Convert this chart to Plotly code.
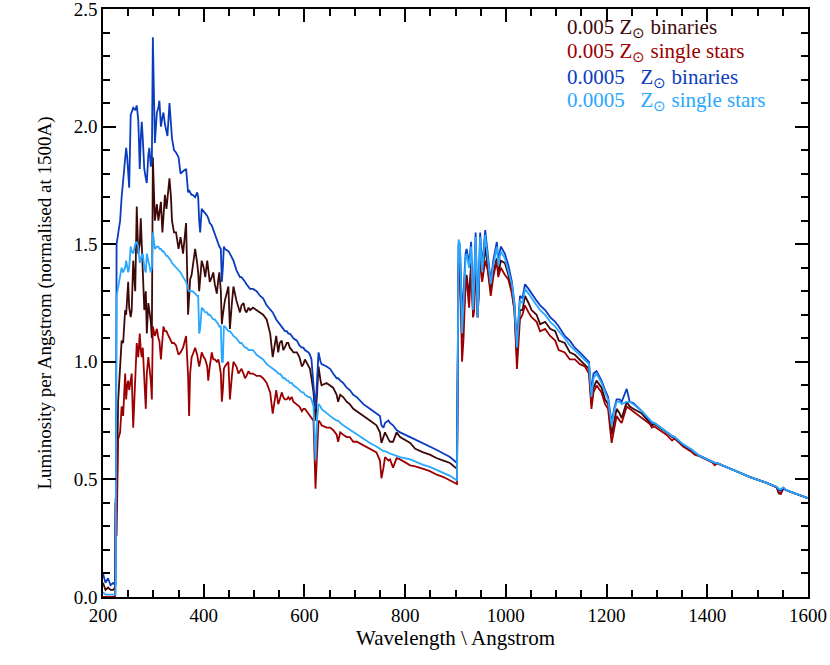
import plotly.graph_objects as go

# wavelength grid (Angstrom), shared by all four spectra
wave = [
    200, 205, 210, 215, 220, 224, 225, 227, 230, 234,
    237, 240, 244, 246, 248, 250, 252, 255, 257, 260,
    264, 267, 270, 273, 275, 277, 279, 282, 285, 287,
    290, 292, 295, 297, 299, 303, 307, 310, 312, 315,
    318, 320, 323, 326, 328, 332, 335, 337, 341, 345,
    350, 354, 359, 365, 369, 371, 373, 376, 378, 383,
    387, 389, 391, 393, 396, 400, 403, 407, 409, 412,
    416, 419, 422, 426, 429, 431, 434, 436, 438, 440,
    442, 449, 452, 456, 459, 465, 469, 472, 475, 479,
    482, 485, 489, 492, 498, 505, 512, 518, 525, 532,
    537, 544, 548, 551, 555, 558, 561, 565, 568, 571,
    575, 578, 585, 590, 595, 598, 601, 608, 611, 614,
    618, 622, 625, 628, 632, 634, 644, 651, 657, 664,
    667, 671, 677, 684, 690, 697, 704, 717, 730, 743,
    750, 753, 757, 760, 767, 770, 776, 783, 790, 810,
    820, 829, 836, 849, 863, 876, 889, 903, 906, 909,
    913, 916, 920, 922, 927, 931, 935, 937, 940, 944,
    946, 949, 953, 959, 964, 970, 975, 982, 985, 990,
    998, 1005, 1012, 1017, 1022, 1025, 1028, 1033, 1038, 1045,
    1051, 1061, 1068, 1078, 1088, 1098, 1105, 1117, 1127, 1137,
    1147, 1157, 1165, 1170, 1174, 1180, 1190, 1197, 1203, 1210,
    1215, 1220, 1226, 1230, 1240, 1246, 1253, 1270, 1286, 1290,
    1295, 1319, 1330, 1335, 1352, 1370, 1375, 1385, 1410, 1415,
    1419, 1452, 1485, 1518, 1538, 1542, 1546, 1551, 1556, 1571,
    1600,
]

# 0.005 Zsun binaries
lum_z005_bin = [
    .06, .03, .04, .03, .03, .04, .40, .36, .83, 1.00,
    1.09, 1.08, 1.22, 1.20, 1.30, 1.34, 1.23, 1.19, 1.22, 1.43,
    1.30, 1.66, 1.46, 1.50, 1.61, 1.50, 1.43, 1.22, 1.30, 1.12,
    1.25, 1.21, 1.17, 1.10, 1.87, 1.60, 1.67, 1.60, 1.64, 1.68,
    1.55, 1.62, 1.71, 1.65, 1.70, 1.78, 1.70, 1.60, 1.55, 1.55,
    1.48, 1.53, 1.46, 1.59, 1.20, 1.28, 1.35, 1.37, 1.40, 1.48,
    1.42, 1.38, 1.30, 1.35, 1.43, 1.40, 1.36, 1.43, 1.38, 1.34,
    1.36, 1.38, 1.33, 1.29, 1.35, 1.38, 1.30, 1.16, 1.20, 1.24,
    1.26, 1.32, 1.14, 1.25, 1.32, 1.26, 1.23, 1.21, 1.24, 1.25,
    1.22, 1.21, 1.23, 1.22, 1.23, 1.22, 1.21, 1.20, 1.18, 1.12,
    1.02, 1.11, 1.04, 1.08, 1.09, 1.05, 1.06, 1.08, 1.08, 1.06,
    1.05, 1.04, 1.04, 1.02, .98, .99, 1.01, .98, .97, .93,
    .87, .75, .85, .98, .92, .90, .91, .90, .89, .86,
    .83, .86, .85, .83, .82, .80, .79, .77, .75, .73,
    .70, .655, .68, .70, .67, .66, .66, .70, .68, .655,
    .63, .62, .615, .605, .59, .58, .57, .545, 1.40, 1.38,
    1.10, 1.20, 1.34, 1.37, 1.28, 1.42, 1.19, 1.25, 1.45, 1.19,
    1.30, 1.47, 1.36, 1.49, 1.40, 1.30, 1.38, 1.44, 1.37, 1.43,
    1.42, 1.37, 1.30, 1.22, 1.02, 1.12, 1.22, 1.22, 1.28, 1.25,
    1.22, 1.20, 1.16, 1.17, 1.14, 1.13, 1.09, 1.08, 1.04, 1.03,
    1.01, .99, .97, .82, .89, .92, .89, .84, .82, .69,
    .75, .80, .78, .76, .83, .81, .80, .78, .74, .73,
    .735, .70, .68, .675, .645, .62, .61, .60, .575, .565,
    .57, .54, .51, .485, .466, .44, .438, .462, .455, .443,
    .42,
]

# 0.005 Zsun single stars
lum_z005_sin = [
    0, 0, 0, 0, 0, 0, .42, .26, .67, .70,
    .81, .77, .95, .84, .90, .92, .88, .92, .95, .72,
    .95, 1.08, 1.02, 1.12, 1.05, 1.02, 1.06, .94, .80, .95,
    1.02, .98, .92, .84, 1.15, 1.11, 1.14, 1.10, 1.09, 1.01,
    1.10, 1.15, 1.13, 1.13, 1.12, 1.10, 1.09, 1.08, 1.08, 1.07,
    1.03, 1.04, 1.06, 1.11, .94, .77, .95, 1.02, 1.03, 1.06,
    1.03, 1.01, .98, 1.00, 1.04, 1.02, 1.01, .98, .92, .98,
    1.04, 1.01, 1.01, 1.00, 1.01, .99, .95, .83, .88, .97,
    .98, 1.00, .84, .94, 1.00, .98, .95, .96, .97, .95,
    .93, .94, .96, .95, .95, .94, .94, .93, .91, .87,
    .78, .88, .82, .84, .87, .85, .84, .84, .85, .84,
    .85, .83, .82, .81, .79, .80, .80, .78, .77, .76,
    .75, .46, .65, .75, .74, .73, .72, .72, .71, .69,
    .66, .70, .69, .68, .68, .66, .66, .645, .63, .615,
    .58, .505, .55, .595, .58, .585, .55, .59, .585, .56,
    .555, .55, .545, .535, .52, .51, .495, .48, 1.42, 1.40,
    1.00, 1.10, 1.35, 1.35, 1.23, 1.40, 1.19, 1.22, 1.43, 1.19,
    1.28, 1.45, 1.34, 1.43, 1.39, 1.28, 1.36, 1.43, 1.36, 1.40,
    1.37, 1.35, 1.29, 1.22, .97, 1.08, 1.18, 1.20, 1.24, 1.21,
    1.19, 1.17, 1.13, 1.14, 1.11, 1.09, 1.05, 1.04, 1.01, 1.01,
    .99, .98, .95, .80, .87, .90, .87, .82, .80, .655,
    .72, .77, .75, .74, .81, .80, .79, .76, .735, .72,
    .725, .69, .665, .675, .64, .615, .605, .598, .572, .56,
    .568, .54, .51, .485, .466, .445, .44, .462, .455, .443,
    .42,
]

# 0.0005 Zsun binaries
lum_z0005_bin = [
    .10, .06, .08, .05, .06, .05, .05, 1.50, 1.54, 1.60,
    1.70, 1.77, 1.86, 1.91, 1.87, 1.80, 1.74, 2.05, 2.06, 2.08,
    2.07, 2.09, 2.03, 1.82, 1.95, 2.02, 1.95, 1.82, 1.78, 1.76,
    1.88, 1.91, 1.83, 1.85, 2.38, 1.93, 2.06, 2.08, 2.11, 2.00,
    2.04, 2.06, 2.01, 1.97, 1.96, 2.10, 2.03, 1.95, 1.90, 1.89,
    1.87, 1.80, 1.81, 1.82, 1.72, 1.73, 1.72, 1.71, 1.71, 1.70,
    1.72, 1.70, 1.60, 1.55, 1.65, 1.64, 1.63, 1.62, 1.61, 1.59,
    1.58, 1.56, 1.55, 1.52, 1.50, 1.49, 1.48, 1.34, 1.40, 1.49,
    1.48, 1.47, 1.46, 1.44, 1.43, 1.39, 1.37, 1.36, 1.36, 1.35,
    1.34, 1.33, 1.32, 1.31, 1.31, 1.30, 1.28, 1.27, 1.24, 1.22,
    1.21, 1.18, 1.17, 1.16, 1.15, 1.14, 1.13, 1.13, 1.12, 1.12,
    1.11, 1.10, 1.09, 1.07, 1.06, 1.06, 1.05, 1.04, 1.03, 1.01,
    .90, .80, .92, 1.04, 1.00, .99, .98, .97, .95, .93,
    .93, .92, .91, .89, .88, .86, .85, .82, .80, .78,
    .77, .73, .72, .74, .75, .74, .73, .71, .70, .68,
    .67, .66, .655, .64, .625, .61, .595, .57, 1.50, 1.48,
    1.20, 1.30, 1.46, 1.48, 1.42, 1.51, 1.23, 1.35, 1.55, 1.19,
    1.35, 1.55, 1.40, 1.56, 1.46, 1.34, 1.43, 1.51, 1.43, 1.49,
    1.46, 1.41, 1.34, 1.25, 1.08, 1.18, 1.28, 1.27, 1.33, 1.31,
    1.29, 1.26, 1.24, 1.22, 1.19, 1.17, 1.15, 1.11, 1.09, 1.06,
    1.04, 1.02, 1.00, .87, .95, .96, .92, .88, .85, .74,
    .80, .84, .84, .83, .885, .83, .825, .79, .75, .74,
    .74, .70, .685, .68, .647, .625, .615, .60, .575, .57,
    .57, .54, .51, .485, .468, .455, .452, .464, .455, .443,
    .42,
]

# 0.0005 Zsun single stars
lum_z0005_sin = [
    .02, .01, .01, .01, .01, .01, .01, 1.28, 1.32, 1.36,
    1.40, 1.38, 1.40, 1.43, 1.40, 1.38, 1.40, 1.49, 1.47, 1.46,
    1.50, 1.51, 1.49, 1.42, 1.44, 1.45, 1.46, 1.40, 1.38, 1.46,
    1.43, 1.40, 1.38, 1.40, 1.55, 1.48, 1.49, 1.49, 1.48, 1.48,
    1.47, 1.47, 1.46, 1.45, 1.45, 1.44, 1.43, 1.42, 1.41, 1.40,
    1.39, 1.38, 1.36, 1.34, 1.31, 1.30, 1.30, 1.30, 1.30, 1.29,
    1.28, 1.28, 1.12, 1.14, 1.23, 1.22, 1.21, 1.21, 1.20, 1.20,
    1.19, 1.18, 1.18, 1.17, 1.16, 1.15, 1.15, 1.00, 1.00, 1.15,
    1.15, 1.13, 1.13, 1.12, 1.11, 1.10, 1.09, 1.08, 1.08, 1.07,
    1.06, 1.06, 1.05, 1.05, 1.05, 1.03, 1.02, 1.01, .99, .98,
    .97, .96, .95, .95, .94, .93, .93, .92, .92, .91,
    .91, .90, .89, .88, .87, .87, .86, .85, .85, .84,
    .81, .58, .75, .82, .81, .80, .78, .77, .76, .75,
    .75, .74, .73, .72, .71, .70, .69, .675, .655, .64,
    .63, .625, .62, .62, .615, .61, .605, .60, .595, .585,
    .575, .568, .562, .553, .54, .528, .515, .495, 1.52, 1.50,
    1.12, 1.25, 1.44, 1.46, 1.40, 1.49, 1.22, 1.33, 1.53, 1.19,
    1.34, 1.53, 1.38, 1.54, 1.44, 1.33, 1.41, 1.49, 1.41, 1.47,
    1.44, 1.39, 1.33, 1.24, 1.06, 1.16, 1.26, 1.25, 1.31, 1.29,
    1.27, 1.24, 1.22, 1.20, 1.17, 1.15, 1.13, 1.10, 1.07, 1.05,
    1.03, 1.01, .99, .85, .93, .95, .91, .87, .84, .73,
    .79, .83, .83, .82, .83, .83, .82, .79, .755, .745,
    .74, .70, .685, .68, .65, .625, .615, .60, .575, .57,
    .57, .54, .51, .485, .468, .46, .458, .466, .456, .443,
    .42,
]

series = [
    (lum_z005_bin, '#3d0808', '0.005 Z<sub>⊙</sub> binaries'),
    (lum_z005_sin, '#9c0000', '0.005 Z<sub>⊙</sub> single stars'),
    (lum_z0005_bin, '#0a3cbe', '0.0005\u00a0\u00a0\u00a0Z<sub>⊙</sub> binaries'),
    (lum_z0005_sin, '#2aa8ff', '0.0005\u00a0\u00a0\u00a0Z<sub>⊙</sub> single stars'),
]

fig = go.Figure()
for vals, col, name in series:
    fig.add_trace(go.Scatter(x=wave, y=vals, mode='lines', name=name,
                             line=dict(color=col, width=1.8)))

# legend as coloured text, top right
legend_y = [0.968, 0.927, 0.883, 0.844]
for (vals, col, name), yy in zip(series, legend_y):
    fig.add_annotation(xref='paper', yref='paper', x=0.655, y=yy, text=name,
                       showarrow=False, xanchor='left', yanchor='middle',
                       font=dict(color=col, size=21, family='Liberation Serif'))

axis_style = dict(showline=True, linecolor='black', linewidth=1.5, mirror='allticks',
                  ticks='inside', ticklen=13, tickwidth=1.5, tickcolor='black',
                  showgrid=False, zeroline=False, automargin=False,
                  ticklabeloverflow='allow',
                  tickfont=dict(size=19, family='Liberation Serif', color='black'))

fig.update_xaxes(range=[200, 1600], tickvals=[200, 400, 600, 800, 1000, 1200, 1400, 1600],
                 minor=dict(dtick=50, ticks='inside', ticklen=7, tickwidth=1.5, tickcolor='black', showgrid=False),
                 title=dict(text='Wavelength \\ Angstrom', font=dict(size=21, family='Liberation Serif'), standoff=4),
                 **axis_style)
fig.update_yaxes(range=[0, 2.5], tickvals=[0, 0.5, 1.0, 1.5, 2.0, 2.5], tickformat='.1f',
                 minor=dict(dtick=0.1, ticks='inside', ticklen=7, tickwidth=1.5, tickcolor='black', showgrid=False),
                 title=dict(text='Luminosity per Angstrom (normalised at 1500A)', font=dict(size=19, family='Liberation Serif'), standoff=17),
                 **axis_style)

fig.update_layout(width=830, height=665, showlegend=False,
                  paper_bgcolor='white', plot_bgcolor='white',
                  margin=dict(l=103, r=22, t=9, b=68),
                  font=dict(family='Liberation Serif', size=19, color='black'))

# drop the browser's default 8 px body margin so the figure sits at the page corner
fig.write_html("out.html", config={'displayModeBar': False},
               post_script="document.body.style.margin = '0px';")
